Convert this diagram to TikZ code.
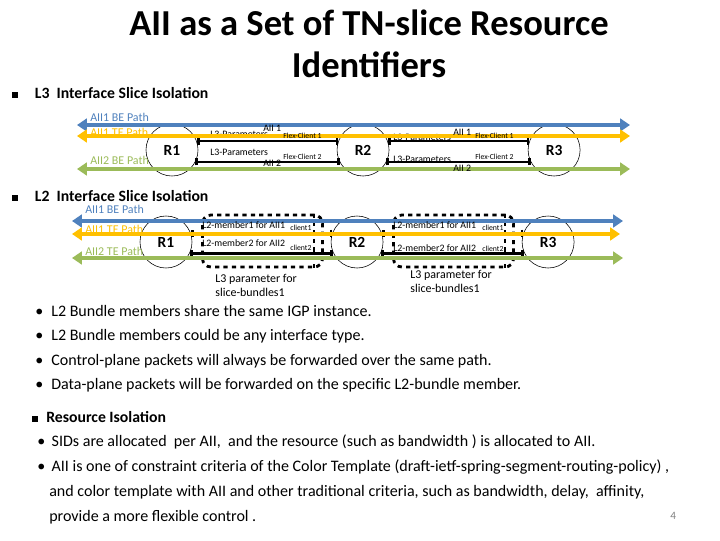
\documentclass[tikz,border=0pt]{standalone}
\usepackage{fontspec}
\setmainfont{Carlito}
\usetikzlibrary{arrows.meta,positioning}
\definecolor{beblue}{RGB}{79,129,189}
\definecolor{tegold}{RGB}{255,192,0}
\definecolor{bggreen}{RGB}{155,187,89}
\newcommand{\sqbullet}[1]{\rule[0.1ex]{0.8ex}{0.8ex}\hspace{#1}}

\begin{document}
\begin{tikzpicture}[x=0.025cm,y=-0.025cm,node distance=4.775cm,
  router/.style={circle,draw,thin,minimum size=1.3cm,inner sep=0pt,font=\bfseries\fontsize{11}{13}\selectfont},
  link/.style={line width=2pt,{Bar[width=5pt]}-{Bar[width=5pt]}},
  slice path/.style={line width=2.2pt,{Triangle[width=9pt,length=7pt]}-{Triangle[width=9pt,length=7pt]}},
  path label/.style={anchor=west,inner sep=0pt,font=\fontsize{8.5}{10}\selectfont},
  param/.style={anchor=west,inner sep=0pt,font=\fontsize{7}{8}\selectfont},
  client/.style={anchor=west,inner sep=0pt,font=\fontsize{5.5}{6}\selectfont},
  bundle/.style={draw,dashed,line width=2pt,rounded corners=6pt,minimum width=3cm,minimum height=1.3cm},
  heading/.style={anchor=west,inner sep=0pt,font=\bfseries\fontsize{11.2}{13}\selectfont},
  item/.style={anchor=west,inner sep=0pt,font=\fontsize{11.4}{13}\selectfont}]

  \useasboundingbox (0,0) rectangle (720,540);

  % title
  \node[align=center,font=\bfseries\fontsize{26}{29.5}\selectfont] (title) at (369,44)
    {AII as a Set of TN-slice Resource\\Identifiers};

  % L3 interface slice isolation
  \node[heading] (h3) at (12,93) {\sqbullet{1.05em}L3\ \ Interface Slice Isolation};

  \node[router] (r1) at (172,150) {R1};
  \node[router] (r2) [right of=r1] {R2};
  \node[router] (r3) [right of=r2] {R3};

  \draw[link] (r1.20) -- (r2.160);
  \draw[link] (r1.-27) -- (r2.207);
  \draw[link] (r2.20) -- (r3.160);
  \draw[link] (r2.-27) -- (r3.207);

  \node[path label,text=beblue] (be1) at (90,117) {AII1 BE Path};
  \node[path label,text=tegold] (te1) at (90,132) {AII1 TE Path};
  \node[path label,text=bggreen] (be2) at (90,160) {AII2 BE Path};

  \node[param] (p1) at (210,134) {L3-Parameters};
  \node[param] (p2) at (210,152) {L3-Parameters};
  \node[param] (p3) at (393,137) {L3-Parameters};
  \node[param] (p4) at (393,159) {L3-Parameters};

  \coordinate (b1w) at (77,125);  \coordinate (b1e) at (630,125);
  \coordinate (t1w) at (77,136);  \coordinate (t1e) at (630,136);
  \coordinate (g1w) at (77,169);  \coordinate (g1e) at (630,169);
  \draw[slice path,beblue] (b1w) -- (b1e);
  \draw[slice path,tegold] (t1w) -- (t1e);
  \draw[slice path,bggreen] (g1w) -- (g1e);

  \node[param] (a1) at (263,128) {AII 1};
  \node[param] (a2) at (263,163) {AII 2};
  \node[param] (a3) at (453,132) {AII 1};
  \node[param] (a4) at (453,168) {AII 2};
  \node[client] (f1) at (283,136) {Flex-Client 1};
  \node[client] (f2) at (283,157) {Flex-Client 2};
  \node[client] (f3) at (475,136) {Flex-Client 1};
  \node[client] (f4) at (475,157) {Flex-Client 2};

  % L2 interface slice isolation
  \node[heading] (h2) at (12,196) {\sqbullet{1.05em}L2\ \ Interface Slice Isolation};

  \node[router] (s1) at (166,242) {R1};
  \node[router] (s2) [right of=s1] {R2};
  \node[router] (s3) [right of=s2] {R3};

  \node[bundle] (bd1) at (262.5,241) {};
  \node[bundle] (bd2) at (453.5,241) {};
  \draw[dashed,line width=2pt] ([xshift=-0.25cm]bd1.north east) -- ([xshift=-0.25cm]bd1.south east);
  \draw[dashed,line width=2pt] ([xshift=-0.25cm]bd2.north east) -- ([xshift=-0.25cm]bd2.south east);

  \draw[link] (s1.20) -- (s2.160);
  \draw[link] (s1.-25) -- (s2.205);
  \draw[link] (s2.20) -- (s3.160);
  \draw[link] (s2.-25) -- (s3.205);

  \node[path label,text=beblue] (be3) at (85,209) {AII1 BE Path};
  \node[path label,text=tegold] (te3) at (85,229) {AII1 TE Path};
  \node[path label,text=bggreen] (te4) at (85,251) {AII2 TE Path};

  \coordinate (b2w) at (72,221);  \coordinate (b2e) at (623,221);
  \coordinate (t2w) at (72,234);  \coordinate (t2e) at (620,234);
  \coordinate (g2w) at (72,258);  \coordinate (g2e) at (623,258);
  \draw[slice path,beblue] (b2w) -- (b2e);
  \draw[slice path,tegold] (t2w) -- (t2e);
  \draw[slice path,bggreen] (g2w) -- (g2e);

  \node[param] (m1) at (202,225) {L2-member1 for AII1};
  \node[param] (m2) at (202,243) {L2-member2 for AII2};
  \node[param] (m3) at (393,225) {L2-member1 for AII1};
  \node[param] (m4) at (393,248) {L2-member2 for AII2};
  \node[client] (c1) at (290,228) {client1};
  \node[client] (c2) at (290,248) {client2};
  \node[client] (c3) at (482,228) {client1};
  \node[client] (c4) at (482,249) {client2};

  \node[param,anchor=north west,align=left,font=\fontsize{8.5}{10}\selectfont]
    (l3a) [below right=0.15cm and 0.35cm of bd1.south west] {L3 parameter for\\slice-bundles1};
  \node[param,anchor=north west,align=left,font=\fontsize{8.5}{10}\selectfont]
    (l3b) [below right=0.05cm and 0.45cm of bd2.south west] {L3 parameter for\\slice-bundles1};

  % bullets
  \node[item] (i1) at (35,311) {•\hspace{0.5em}L2 Bundle members share the same IGP instance.};
  \node[item] (i2) at (35,336) {•\hspace{0.5em}L2 Bundle members could be any interface type.};
  \node[item] (i3) at (35,361) {•\hspace{0.5em}Control-plane packets will always be forwarded over the same path.};
  \node[item] (i4) at (35,385) {•\hspace{0.5em}Data-plane packets will be forwarded on the specific L2-bundle member.};

  % resource isolation
  \node[heading] (hr) at (32,417) {\sqbullet{0.5em}Resource Isolation};
  \node[item] (j1) at (37,442) {•\hspace{0.4em}SIDs are allocated\ \ per AII,\ \ and the resource (such as bandwidth ) is allocated to AII.};
  \node[item] (j2) at (37,467) {•\hspace{0.4em}AII is one of constraint criteria of the Color Template (draft-ietf-spring-segment-routing-policy) ,};
  \node[item] (j3) at (49,492) {and color template with AII and other traditional criteria, such as bandwidth, delay,\ \ affinity,};
  \node[item] (j4) at (49,517) {provide a more flexible control .};
  \node[item,text=gray,font=\fontsize{8}{9}\selectfont] (pg) at (670,516) {4};
\end{tikzpicture}
\end{document}
